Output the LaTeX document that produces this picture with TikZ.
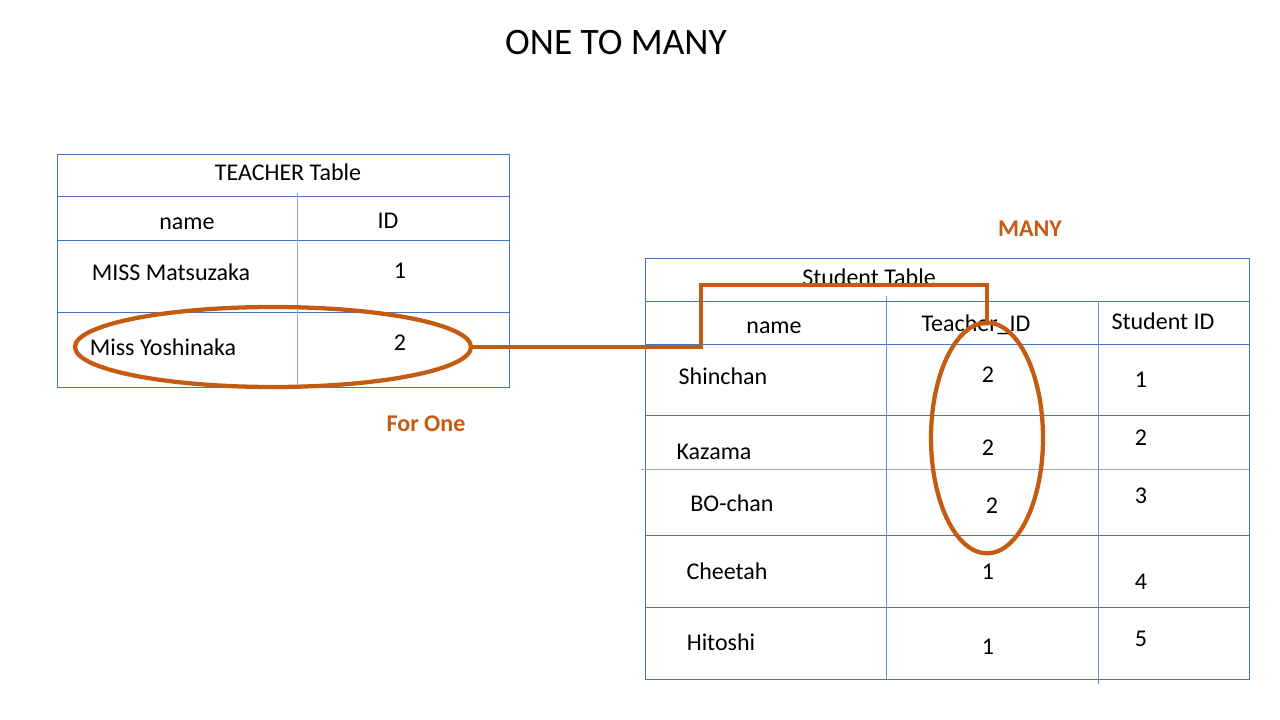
\documentclass[tikz,border=0pt]{standalone}
\usepackage{fontspec}
\setmainfont{Carlito}
\usetikzlibrary{shapes, positioning}
\definecolor{gridblue}{HTML}{4472C4}
\definecolor{paleblue}{HTML}{8FAADC}
\definecolor{linkorange}{HTML}{C55A11}

\begin{document}
\begin{tikzpicture}[x=0.75pt, y=-0.75pt,
    cell/.style={font=\fontsize{18}{22}\selectfont, inner sep=0pt, text height=12.9pt, text depth=0pt},
    tag/.style={font=\fontsize{18}{22}\selectfont\bfseries, text=linkorange, inner sep=0pt, text height=12.9pt, text depth=0pt},
    grid line/.style={draw=gridblue, line width=0.75pt},
    ring/.style={draw=linkorange, ellipse, line width=3.2pt, inner sep=0pt}]
    \useasboundingbox (0,0) rectangle (1280,720);
    \node[font=\fontsize{28}{34}\selectfont, inner sep=0pt, text height=19pt, text depth=0pt] (title) at (616,42) {ONE TO MANY};

    % TEACHER table
    \draw[grid line] (57,155) rectangle (509,387);
    \foreach \y in {197,241,312}
        \draw[grid line] (57,\y) -- (509,\y);
    \draw[grid line, draw=paleblue] (297,193) -- (297,387);
    \node[cell] (teacherTable) at (288,172) {TEACHER Table};
    \node[cell] (tName) at (187,221) {name};
    \node[cell] (tID) at (388,220) {ID};
    \node[cell] (matsuzaka) at (171,272) {MISS Matsuzaka};
    \node[cell] (matsuzakaID) at (400,270) {1};
    \node[cell] (yoshinaka) at (163,347) {Miss Yoshinaka};
    \node[cell] (yoshinakaID) at (400,342) {2};
    \node[tag] (forOne) at (426,423) {For One};

    % Student table
    \draw[grid line] (645,258) rectangle (1249,679);
    \foreach \y in {301,344,415,535,607}
        \draw[grid line] (645,\y) -- (1249,\y);
    \draw[grid line, draw=paleblue] (641,469) -- (1249,469);
    \draw[grid line, draw=gridblue!80] (886,296) -- (886,679);
    \draw[grid line, draw=gridblue!80] (1098,301) -- (1098,684);
    \node[cell] (studentTable) at (869,277) {Student Table};
    \node[cell] (sName) at (774,325) {name};
    \node[cell] (sTeacherID) at (976,323) {Teacher\_ID};
    \node[cell] (sStudentID) at (1163,321) {Student ID};
    \node[cell] (shinchan) at (723,376) {Shinchan};
    \node[cell] at (988,374) {2};
    \node[cell] at (1141,379) {1};
    \node[cell] (kazama) at (714,451) {Kazama};
    \node[cell] at (988,447) {2};
    \node[cell] at (1141,437) {2};
    \node[cell] (bochan) at (732,503) {BO-chan};
    \node[cell] at (992,505) {2};
    \node[cell] at (1141,495) {3};
    \node[cell] (cheetah) at (727,571) {Cheetah};
    \node[cell] at (988,571) {1};
    \node[cell] at (1141,581) {4};
    \node[cell] (hitoshi) at (721,642) {Hitoshi};
    \node[cell] at (988,646) {1};
    \node[cell] at (1141,638) {5};
    \node[tag] (many) at (1030,228) {MANY};

    % rings and link
    \node[ring, minimum width=297pt, minimum height=60pt] (oneRing) at (273,347) {};
    \node[ring, minimum width=84pt, minimum height=173pt] (manyRing) at (987,438) {};
    \coordinate (bend) at (701,285);
    \draw[draw=linkorange, line width=3pt] (oneRing.east) -| (bend) -| (manyRing.north);
\end{tikzpicture}
\end{document}
